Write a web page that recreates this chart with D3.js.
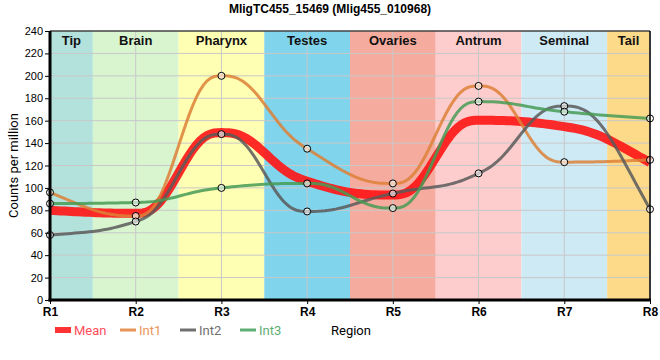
<!DOCTYPE html>
<html>
<head>
<meta charset="utf-8">
<script src="https://cdn.jsdelivr.net/npm/d3@7"></script>
<style>
  body { margin: 0; background: #fff; }
  svg { display: block; font-family: Roboto, "Liberation Sans", Arial, sans-serif; }
</style>
</head>
<body>
<div id="chart"></div>
<script>
// chart data
const regions = ['R1', 'R2', 'R3', 'R4', 'R5', 'R6', 'R7', 'R8'];
const int1 = [96, 75, 200, 135, 104, 191, 123, 125];
const int2 = [58, 70, 148, 79, 95, 113, 173, 81];
const int3 = [86, 87, 100, 104, 82, 177, 168, 162];
const mean = regions.map((r, i) => (int1[i] + int2[i] + int3[i]) / 3);
const bandNames = ['Tip', 'Brain', 'Pharynx', 'Testes', 'Ovaries', 'Antrum', 'Seminal', 'Tail'];
const bandColors = ['#b3e2dd', '#d8f5d0', '#ffffb3', '#80d4ec', '#f5ab9e', '#fdcccc', '#cdeaf5', '#fdd98a'];
const yTicks = [0, 20, 40, 60, 80, 100, 120, 140, 160, 180, 200, 220, 240];

const width = 660, height = 360;
const plotLeft = 50, plotRight = 650, plotTop = 31, plotBottom = 300;

const svg = d3.select('#chart').append('svg')
  .attr('width', width)
  .attr('height', height);

const x = d3.scalePoint().domain(regions).range([plotLeft, plotRight]);
const y = d3.scaleLinear().domain([0, 240]).range([plotBottom, plotTop]);
const step = x.step();
const bandX0 = i => Math.max(plotLeft, x(regions[i]) - step / 2);
const bandX1 = i => Math.min(plotRight, x(regions[i]) + step / 2);

// region background bands
svg.selectAll('.band')
  .data(bandNames)
  .enter()
  .append('rect')
  .attr('x', (d, i) => bandX0(i))
  .attr('y', plotTop)
  .attr('width', (d, i) => bandX1(i) - bandX0(i))
  .attr('height', plotBottom - plotTop)
  .attr('fill', (d, i) => bandColors[i]);

// grid
svg.append('g')
  .selectAll('line')
  .data(yTicks)
  .enter()
  .append('line')
  .attr('x1', plotLeft).attr('x2', plotRight)
  .attr('y1', d => y(d)).attr('y2', d => y(d))
  .attr('stroke', '#c8c8c8').attr('stroke-width', 1);
svg.append('g')
  .selectAll('line')
  .data(regions)
  .enter()
  .append('line')
  .attr('x1', d => x(d)).attr('x2', d => x(d))
  .attr('y1', plotTop).attr('y2', plotBottom)
  .attr('stroke', '#c8c8c8').attr('stroke-width', 1);

// band labels
svg.selectAll('.bandLabel')
  .data(bandNames)
  .enter()
  .append('text')
  .attr('x', (d, i) => (bandX0(i) + bandX1(i)) / 2)
  .attr('y', 45)
  .attr('text-anchor', 'middle')
  .style('font-family', '"Liberation Sans", Arial, sans-serif')
  .style('font-size', '13px')
  .style('font-weight', 'bold')
  .attr('fill', '#111')
  .text(d => d);

// smooth curve: monotone tangents, quintic hermite segments (flatter at the points)
function smoothPoints(values) {
  const n = values.length;
  const s = [];
  for (let i = 0; i < n - 1; i++) s.push(values[i + 1] - values[i]);
  const m = new Array(n).fill(0);
  for (let i = 1; i < n - 1; i++) {
    const s0 = s[i - 1], s1 = s[i];
    if (s0 * s1 > 0) {
      const p = (s0 + s1) / 2;
      m[i] = Math.sign(s0) * Math.min(Math.abs(s0), Math.abs(s1), 0.5 * Math.abs(p)) * 2;
      m[i] = Math.sign(s0) * Math.min(Math.abs(m[i]), 2 * Math.abs(s0), 2 * Math.abs(s1), Math.abs(p));
    }
  }
  m[0] = (3 * s[0] - m[1]) / 2;
  m[n - 1] = (3 * s[n - 2] - m[n - 2]) / 2;
  if (m[0] * s[0] < 0) m[0] = 0;
  if (m[n - 1] * s[n - 2] < 0) m[n - 1] = 0;
  const pts = [];
  const k = 24;
  for (let i = 0; i < n - 1; i++) {
    for (let j = 0; j < k; j++) {
      const t = j / k;
      const t3 = t * t * t, t4 = t3 * t, t5 = t4 * t;
      const h00 = 1 - 10 * t3 + 15 * t4 - 6 * t5;
      const h10 = t - 6 * t3 + 8 * t4 - 3 * t5;
      const h01 = 10 * t3 - 15 * t4 + 6 * t5;
      const h11 = -4 * t3 + 7 * t4 - 3 * t5;
      pts.push([i + t, h00 * values[i] + h10 * m[i] + h01 * values[i + 1] + h11 * m[i + 1]]);
    }
  }
  pts.push([n - 1, values[n - 1]]);
  return pts;
}

const line = d3.line()
  .x(d => plotLeft + d[0] * step)
  .y(d => y(d[1]))
  .curve(d3.curveLinear);

const series = [
  { name: 'Int1', values: int1, color: 'rgba(221,128,55,0.85)', text: '#e8955a' },
  { name: 'Int2', values: int2, color: 'rgba(90,90,90,0.85)', text: '#707070' },
  { name: 'Int3', values: int3, color: 'rgba(70,155,85,0.85)', text: '#5fae75' }
];

svg.append('path')
  .datum(smoothPoints(mean))
  .attr('d', line)
  .attr('fill', 'none')
  .attr('stroke', 'rgba(255,20,20,0.9)')
  .attr('stroke-width', 9);

series.forEach(s => {
  svg.append('path')
    .datum(smoothPoints(s.values))
    .attr('d', line)
    .attr('fill', 'none')
    .attr('stroke', s.color)
    .attr('stroke-width', 3);
});

series.forEach(s => {
  svg.append('g')
    .selectAll('circle')
    .data(s.values)
    .enter()
    .append('circle')
    .attr('cx', (d, i) => x(regions[i]))
    .attr('cy', d => y(d))
    .attr('r', 3.5)
    .attr('fill', 'rgba(255,255,255,0.6)')
    .attr('stroke', '#000')
    .attr('stroke-width', 1);
});

// frame
svg.append('line').attr('x1', plotLeft).attr('x2', plotRight).attr('y1', plotTop).attr('y2', plotTop)
  .attr('stroke', '#000').attr('stroke-width', 1);
svg.append('line').attr('x1', plotRight).attr('x2', plotRight).attr('y1', plotTop).attr('y2', plotBottom)
  .attr('stroke', '#000').attr('stroke-width', 1.5);

// axes
const yAxis = svg.append('g')
  .attr('transform', `translate(${plotLeft},0)`)
  .call(d3.axisLeft(y).tickValues(yTicks).tickSize(5).tickPadding(2));
yAxis.select('.domain').attr('stroke-width', 3).attr('d', `M0,${plotTop}V${plotBottom + 1.5}`);
yAxis.selectAll('text').style('font-size', '11px').attr('fill', '#000');

const xAxis = svg.append('g')
  .attr('transform', `translate(0,${plotBottom})`)
  .call(d3.axisBottom(x).tickSize(4).tickPadding(3));
xAxis.select('.domain').attr('stroke-width', 3).attr('d', `M${plotLeft - 1.5},0H${plotRight + 1}`);
xAxis.selectAll('text').style('font-size', '12px').style('font-weight', 'bold').attr('fill', '#000');

// title and axis labels
svg.append('text')
  .attr('x', 330)
  .attr('y', 13)
  .attr('text-anchor', 'middle')
  .style('font-family', '"Liberation Sans", Arial, sans-serif')
  .style('font-size', '12px')
  .style('font-weight', 'bold')
  .text('MligTC455_15469 (Mlig455_010968)');

svg.append('text')
  .attr('transform', 'rotate(-90)')
  .attr('x', -(plotTop + plotBottom) / 2)
  .attr('y', 18)
  .attr('text-anchor', 'middle')
  .style('font-size', '13px')
  .text('Counts per million');

svg.append('text')
  .attr('x', 331)
  .attr('y', 335)
  .style('font-size', '13px')
  .text('Region');

// legend
const legend = svg.append('g');
legend.append('rect').attr('x', 55).attr('y', 327).attr('width', 16).attr('height', 6).attr('fill', '#ff3333');
legend.append('text').attr('x', 74).attr('y', 335).style('font-size', '13px').attr('fill', '#ff4d5a').text('Mean');
series.forEach((s, i) => {
  const lx = 120 + i * 60;
  legend.append('line').attr('x1', lx).attr('x2', lx + 16).attr('y1', 330).attr('y2', 330)
    .attr('stroke', s.text).attr('stroke-width', 3);
  legend.append('text').attr('x', lx + 19).attr('y', 335).style('font-size', '13px')
    .attr('fill', s.text).text(s.name);
});
</script>
</body>
</html>
